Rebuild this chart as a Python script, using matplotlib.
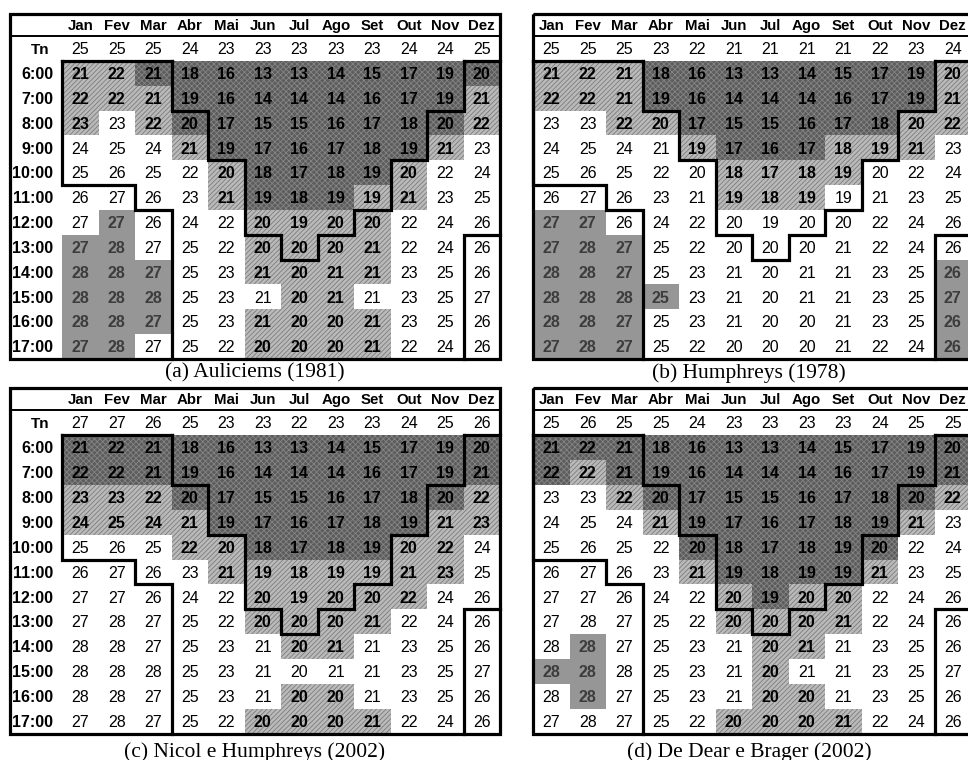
import matplotlib
matplotlib.use("Agg")
import matplotlib.pyplot as plt
from matplotlib.patches import Rectangle

months = ['Jan', 'Fev', 'Mar', 'Abr', 'Mai', 'Jun', 'Jul', 'Ago', 'Set', 'Out', 'Nov', 'Dez']
hours = ['6:00', '7:00', '8:00', '9:00', '10:00', '11:00',
         '12:00', '13:00', '14:00', '15:00', '16:00', '17:00']

# hourly temperatures (same in all four tables)
temps = [
    [21, 22, 21, 18, 16, 13, 13, 14, 15, 17, 19, 20],
    [22, 22, 21, 19, 16, 14, 14, 14, 16, 17, 19, 21],
    [23, 23, 22, 20, 17, 15, 15, 16, 17, 18, 20, 22],
    [24, 25, 24, 21, 19, 17, 16, 17, 18, 19, 21, 23],
    [25, 26, 25, 22, 20, 18, 17, 18, 19, 20, 22, 24],
    [26, 27, 26, 23, 21, 19, 18, 19, 19, 21, 23, 25],
    [27, 27, 26, 24, 22, 20, 19, 20, 20, 22, 24, 26],
    [27, 28, 27, 25, 22, 20, 20, 20, 21, 22, 24, 26],
    [28, 28, 27, 25, 23, 21, 20, 21, 21, 23, 25, 26],
    [28, 28, 28, 25, 23, 21, 20, 21, 21, 23, 25, 27],
    [28, 28, 27, 25, 23, 21, 20, 20, 21, 23, 25, 26],
    [27, 28, 27, 25, 22, 20, 20, 20, 21, 22, 24, 26],
]

# neutral temperature per month
tn_a = [25, 25, 25, 24, 23, 23, 23, 23, 23, 24, 24, 25]
tn_b = [25, 25, 25, 23, 22, 21, 21, 21, 21, 22, 23, 24]
tn_c = [27, 27, 26, 25, 23, 23, 22, 23, 23, 24, 25, 26]
tn_d = [25, 26, 25, 25, 24, 23, 23, 23, 23, 24, 25, 25]

# cell classes: W = none, L = light hatch, D = dark hatch, S = solid gray
shade_a = ["LLDDDDDDDDDD", "LLLDDDDDDDDL", "LWLDDDDDDDDL", "WWWLDDDDDDLW",
           "WWWWLDDDDLWW", "WWWWLDDDLLWW", "WSWWWLLLLWWW", "SSWWWLLLLWWW",
           "SSSWWLLLLWWW", "SSSWWWLLWWWW", "SSSWWLLLLWWW", "SSWWWLLLLWWW"]
shade_b = ["LLLDDDDDDDDL", "LLLDDDDDDDDL", "WWLLDDDDDDLL", "WWWWLDDDLLLW",
           "WWWWWLLLLWWW", "WWWWWLLLWWWW", "SSWWWWWWWWWW", "SSSWWWWWWWWW",
           "SSSWWWWWWWWS", "SSSSWWWWWWWS", "SSSWWWWWWWWS", "SSSWWWWWWWWS"]
shade_c = ["DDDDDDDDDDDD", "DDDDDDDDDDDD", "LLLDDDDDDDDL", "LLLLDDDDDDLL",
           "WWWLLDDDDLLW", "WWWWLLLLLLLW", "WWWWWLLLLLWW", "WWWWWLLLLWWW",
           "WWWWWWLLWWWW", "WWWWWWWWWWWW", "WWWWWWLLWWWW", "WWWWWLLLLWWW"]
shade_d = ["DDDDDDDDDDDD", "DLDDDDDDDDDD", "WWLDDDDDDDDL", "WWWLDDDDDDLW",
           "WWWWDDDDDDWW", "WWWWLDDDDLWW", "WWWWWLDLLWWW", "WWWWWLLLLWWW",
           "WSWWWWLLWWWW", "SSWWWWLWWWWW", "WSWWWWLLWWWW", "WWWWWLLLLWWW"]

captions = ['(a) Auliciems (1981)', '(b) Humphreys (1978)',
            '(c) Nicol e Humphreys (2002)', '(d) De Dear e Brager (2002)']

# thick boundary lines (month edge index, hour edge index)
boundaries = [
    [(0, 0), (3, 0)],
    [(11, 0), (12, 0)],
    [(0, 0), (0, 5), (2, 5), (2, 6), (3, 6), (3, 12)],
    [(3, 0), (3, 2), (4, 2), (4, 4), (5, 4), (5, 7), (6, 7), (6, 8), (7, 8),
     (7, 7), (8, 7), (8, 6), (9, 6), (9, 4), (10, 4), (10, 2), (11, 2), (11, 0)],
    [(12, 7), (11, 7), (11, 12)],
]

W, H = 968, 760
COL = 36.5
HEAD = 0.9
LABEL_COLS = 52 / COL

styles = {
    'L': dict(facecolor='#bababa', edgecolor='#7c7c7c', hatch='///////'),
    'D': dict(facecolor='#5c5c5c', edgecolor='#858585', hatch='xxxxxx'),
    'S': dict(facecolor='#969696', edgecolor='none', hatch=None),
}

plt.rcParams['font.family'] = ['Liberation Sans', 'DejaVu Sans']
plt.rcParams['hatch.linewidth'] = 0.6

fig = plt.figure(figsize=(W / 100, H / 100), dpi=100)


def draw_table(x_jan, y_top, row_h, tn, shade, caption, labels, cap_y):
    xmin = -LABEL_COLS if labels else 0
    left = x_jan + xmin * COL
    top = y_top - (1 + HEAD) * row_h
    width = (12 - xmin) * COL
    height = (13 + HEAD) * row_h
    ax = fig.add_axes([left / W, 1 - (top + height) / H, width / W, height / H])
    ax.set_xlim(xmin, 12)
    ax.set_ylim(12, -1 - HEAD)
    ax.axis('off')

    for r in range(12):
        for c in range(12):
            k = shade[r][c]
            if k != 'W':
                st = styles[k]
                ax.add_patch(Rectangle((c, r), 1, 1, facecolor=st['facecolor'],
                                       edgecolor=st['edgecolor'], hatch=st['hatch'],
                                       linewidth=0))
            color = '#3c3c3c' if k == 'S' else 'black'
            ax.text(c + 0.5, r + 0.55, str(temps[r][c]), ha='center', va='center',
                    fontsize=11.5, color=color,
                    fontweight='normal' if k == 'W' else 'bold')

    for c in range(12):
        ax.text(c + 0.5, -1 - HEAD / 2 + 0.03, months[c], ha='center', va='center',
                fontsize=10.8, fontweight='bold')
        ax.text(c + 0.5, -0.45, str(tn[c]), ha='center', va='center', fontsize=11.5)

    if labels:
        ax.text(-0.33, -0.45, 'Tn', ha='right', va='center', fontsize=11, fontweight='bold')
        for r in range(12):
            ax.text(-0.24, r + 0.55, hours[r], ha='right', va='center',
                    fontsize=11.5, fontweight='bold')

    ax.plot([xmin, 12], [-1, -1], color='black', lw=1.4, clip_on=False)
    ax.add_patch(Rectangle((xmin, -1 - HEAD), 12 - xmin, 13 + HEAD, fill=False,
                           edgecolor='black', linewidth=2.3, clip_on=False))
    for seg in boundaries:
        xs = [p[0] for p in seg]
        ys = [p[1] for p in seg]
        ax.plot(xs, ys, color='black', lw=2.3, solid_joinstyle='miter',
                solid_capstyle='projecting', clip_on=False)

    cx = left + width / 2 if labels else x_jan + 12 * COL / 2 - 3
    fig.text(cx / W, 1 - cap_y / H, caption, ha='center', va='center',
             fontsize=15.5, family='Liberation Serif')


draw_table(62, 61, 24.83, tn_a, shade_a, captions[0], True, 373)
draw_table(533, 61, 24.83, tn_b, shade_b, captions[1], False, 373)
draw_table(62, 435, 24.9, tn_c, shade_c, captions[2], True, 752)
draw_table(533, 435, 24.9, tn_d, shade_d, captions[3], False, 752)

fig.savefig('out.png', dpi=100)
